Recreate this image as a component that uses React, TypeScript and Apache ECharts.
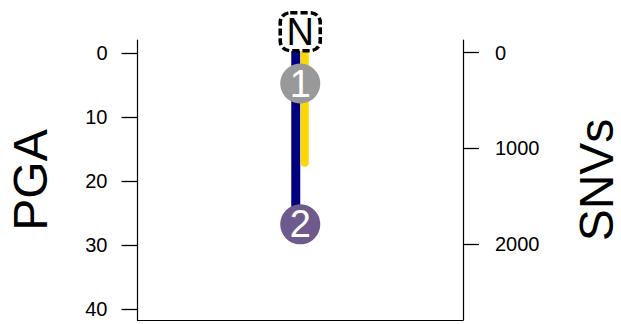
import React, { useEffect, useRef } from "react";
import * as echarts from "echarts";

// Data
const pgaTicks = [0, 10, 20, 30, 40];
const snvTicks = [0, 1000, 2000];
const pgaSpan = [0, 26.8]; // navy bar along PGA axis
const snvSpan = [0, 1150]; // yellow bar along SNVs axis
const nodeLabels = ["1", "2"];
const nodePGA = [4.8, 26.8];
const nodeColors = ["#999999", "#6e5a8c"];
const rootLabel = "N";
const rootPGA = -3.3;

const FONT = "Liberation Sans, Arial, sans-serif";

export default function App() {
  const ref = useRef<HTMLDivElement>(null);
  useEffect(() => {
    if (!ref.current) return;
    const chart = echarts.init(ref.current, null, { renderer: "svg" });
    const barItem = (offset: number, color: string, width: number) =>
      (params: any, api: any) => {
        const p1 = api.coord([api.value(0), api.value(1)]);
        const p2 = api.coord([api.value(0), api.value(2)]);
        return {
          type: "line",
          shape: { x1: p1[0] + offset, y1: p1[1], x2: p2[0] + offset, y2: p2[1] },
          style: { stroke: color, lineWidth: width, lineCap: "round" },
        };
      };
    const axisCommon = {
      type: "value" as const,
      inverse: true,
      splitLine: { show: false },
      axisLine: { show: true, onZero: false, lineStyle: { color: "#000", width: 1.2 } },
      nameLocation: "middle" as const,
      nameRotate: 90,
      nameTextStyle: { fontSize: 48, color: "#000", fontFamily: FONT },
    };
    chart.setOption({
      animation: false,
      grid: { left: 137.5, right: 158, top: 40, bottom: 4, containLabel: false, outerBoundsMode: "none" },
      xAxis: {
        type: "value",
        min: 0,
        max: 1,
        axisLine: { show: true, onZero: false, lineStyle: { color: "#000", width: 1.2 } },
        axisTick: { show: false },
        axisLabel: { show: false },
        splitLine: { show: false },
      },
      yAxis: [
        {
          ...axisCommon,
          position: "left",
          min: -2,
          max: 41.75,
          name: "PGA",
          nameGap: 83,
          axisTick: { show: true, length: 16, customValues: pgaTicks, lineStyle: { color: "#000", width: 1.3 } },
          axisLabel: {
            customValues: pgaTicks,
            formatter: (v: number) => String(v),
            fontSize: 20,
            color: "#000",
            fontFamily: FONT,
            margin: 30,
          },
        },
        {
          ...axisCommon,
          position: "right",
          min: -133,
          max: 2794,
          name: "SNVs",
          nameGap: 109,
          axisTick: { show: true, length: 16, customValues: snvTicks, lineStyle: { color: "#000", width: 1.3 } },
          axisLabel: {
            customValues: snvTicks,
            formatter: (v: number) => String(v),
            fontSize: 20,
            color: "#000",
            fontFamily: FONT,
            margin: 32,
          },
        },
      ],
      series: [
        {
          type: "custom",
          yAxisIndex: 0,
          clip: false,
          renderItem: barItem(-4.5, "#000080", 9),
          data: [[0.5, pgaSpan[0], pgaSpan[1]]],
          z: 1,
        },
        {
          type: "custom",
          yAxisIndex: 1,
          clip: false,
          renderItem: barItem(4.5, "#ffd700", 8),
          data: [[0.5, snvSpan[0], snvSpan[1]]],
          z: 2,
        },
        {
          type: "scatter",
          yAxisIndex: 0,
          clip: false,
          symbol: "circle",
          symbolSize: 40,
          z: 3,
          data: nodeLabels.map((n, i) => ({
            name: n,
            value: [0.5, nodePGA[i]],
            itemStyle: { color: nodeColors[i], opacity: 1 },
          })),
          label: {
            show: true,
            position: "inside",
            formatter: (p: any) => p.name,
            fontSize: 38,
            color: "#fff",
            fontFamily: FONT,
          },
        },
        {
          type: "scatter",
          yAxisIndex: 0,
          clip: false,
          symbol: "roundRect",
          symbolSize: [40, 38],
          z: 4,
          itemStyle: { color: "#fff", opacity: 1, borderColor: "#000", borderWidth: 3.5, borderType: [7, 3] },
          data: [{ name: rootLabel, value: [0.5, rootPGA] }],
          label: {
            show: true,
            position: "inside",
            formatter: (p: any) => p.name,
            fontSize: 38,
            color: "#000",
            fontFamily: FONT,
          },
        },
      ],
    });
    return () => chart.dispose();
  }, []);
  return (
    <div
      ref={ref}
      style={{ position: "fixed", left: 0, top: 0, width: 621, height: 324, background: "#fff" }}
    />
  );
}
